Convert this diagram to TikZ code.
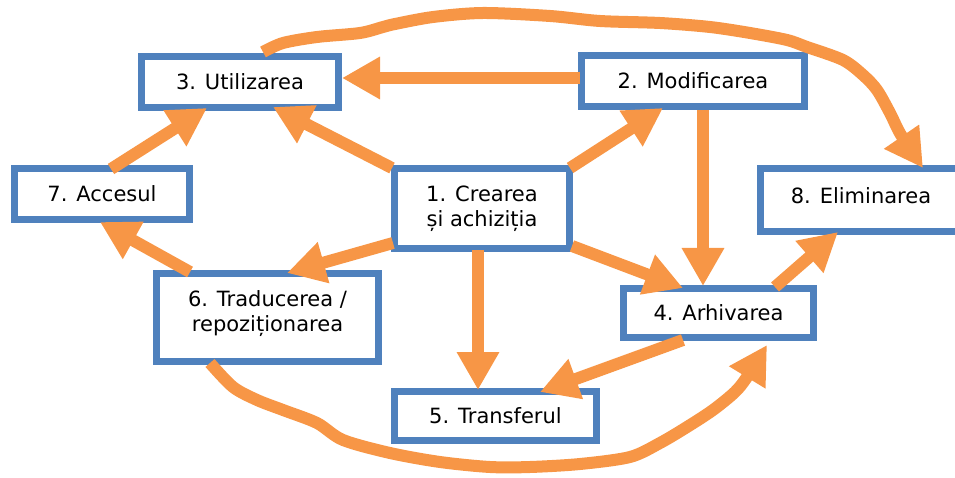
\documentclass[tikz,border=0pt]{standalone}
\usepackage{fontspec}
\setmainfont{DejaVu Sans}
\usetikzlibrary{arrows.meta}
\definecolor{floworange}{HTML}{F79646}
\definecolor{boxblue}{HTML}{4F81BD}
% lift a line of text without changing its box
\newcommand{\liftline}[2]{\raisebox{#1}[\height][\depth]{#2}}

\begin{document}
\begin{tikzpicture}[x=1pt,y=-1pt,
  stage/.style={draw=boxblue, line width=7pt, fill=white, inner sep=0pt,
    align=center, font=\fontsize{21}{25}\selectfont},
  flow/.style={draw=floworange, line width=12pt,
    -{Triangle[width=40pt,length=38pt]}},
  wavy/.style={flow, line join=round}]

\useasboundingbox (0,0) rectangle (955,478);

% lifecycle stages
\node[stage, minimum width=197pt, minimum height=51pt] (s3) at (240,82) {3. Utilizarea};
\node[stage, minimum width=223pt, minimum height=51pt] (s2) at (693,81) {2. Modificarea};
\node[stage, minimum width=175pt, minimum height=51pt] (s7) at (102,194) {7. Accesul};
\node[stage, minimum width=175pt, minimum height=80pt] (s1) at (482,208.5) {1. Crearea\\și achiziția};
\node[stage, minimum width=201pt, minimum height=63pt] (s8) at (861,200) {\liftline{4pt}{8. Eliminarea}};
\node[stage, minimum width=222pt, minimum height=88pt] (s6) at (267.5,317.5)
  {\liftline{4pt}{6. Traducerea /}\\\liftline{4pt}{repoziționarea}};
\node[stage, minimum width=190pt, minimum height=49pt] (s4) at (718.5,313) {4. Arhivarea};
\node[stage, minimum width=202pt, minimum height=49pt] (s5) at (495.5,416) {5. Transferul};

% straight transitions
\draw[flow] ([shift={(2,-3)}]s2.west) -- ([shift={(0,-4)}]s3.east);
\draw[flow] ([shift={(1,3)}]s1.north west) -- ([shift={(33,-4)}]s3.south);
\draw[flow] ([shift={(9,4)}]s7.north) -- ([shift={(-33,-3)}]s3.south);
\draw[flow] ([shift={(-3,3)}]s1.north east) -- ([shift={(-30,-2)}]s2.south);
\draw[flow] ([shift={(10,0)}]s2.south) -- ([shift={(-15.5,1)}]s4.north);
\draw[flow] ([shift={(-1,-6)}]s1.south east) -- ([shift={(-35.5,3)}]s4.north);
\draw[flow] ([shift={(-42,2)}]s4.north east) -- ([shift={(-23,-3)}]s8.south);
\draw[flow] ([shift={(2,-9)}]s1.south west) -- ([shift={(19.5,3)}]s6.north);
\draw[flow] ([shift={(37,2)}]s6.north west) -- ([shift={(-2,-1)}]s7.south);
\draw[flow] ([shift={(-4,-2)}]s1.south) -- ([shift={(-17.5,2)}]s5.north);
\draw[flow] ([shift={(-35.5,-1)}]s4.south) -- ([shift={(44.5,4)}]s5.north);

% hand-drawn long transitions
\coordinate (u0) at ([shift={(23,-1)}]s3.north);
\coordinate (e0) at ([shift={(62,3)}]s8.north);
\draw[wavy] plot[smooth, tension=0.5] coordinates {
  (u0) (283,43) (317,37) (360,33) (383,27) (395,24) (433,17) (483,13)
  (550,16) (600,21) (660,23) (710,27) (750,33) (787,40) (807,47)
  (843,60) (863,75) (877,90) (890,113) (901,135) (e0)};

\coordinate (t0) at ([shift={(-57.5,-2)}]s6.south);
\coordinate (a0) at ([shift={(48.5,4)}]s4.south);
\draw[wavy] plot[smooth, tension=0.5] coordinates {
  (t0) (233,387) (257,400) (283,410) (317,423) (343,440) (390,453)
  (440,462) (490,467) (530,467) (580,464) (630,457) (660,443)
  (687,427) (713,410) (735,392) (747,377) (a0)};

\end{tikzpicture}
\end{document}
